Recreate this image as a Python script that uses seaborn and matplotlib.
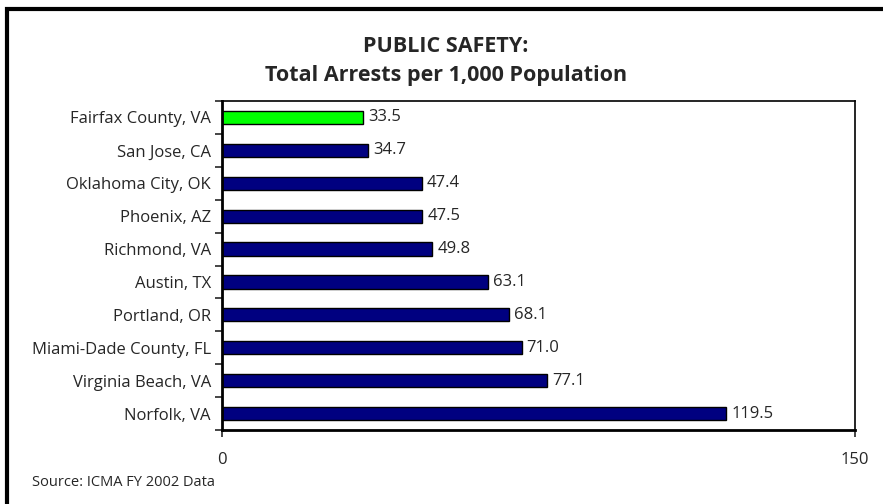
import matplotlib
matplotlib.use("Agg")
import matplotlib.pyplot as plt
import seaborn as sns
import pandas as pd
from matplotlib.patches import Rectangle

# Data
cities = ["Fairfax County, VA", "San Jose, CA", "Oklahoma City, OK", "Phoenix, AZ",
          "Richmond, VA", "Austin, TX", "Portland, OR", "Miami-Dade County, FL",
          "Virginia Beach, VA", "Norfolk, VA"]
arrests = [33.5, 34.7, 47.4, 47.5, 49.8, 63.1, 68.1, 71.0, 77.1, 119.5]
bar_colors = ["#00FF00"] + ["#000080"] * 9

df = pd.DataFrame({"City": cities, "Arrests": arrests})

sns.set_style("white")
plt.rcParams["font.family"] = ["Open Sans", "DejaVu Sans"]

fig = plt.figure(figsize=(8.83, 5.04), dpi=100)
W, H = 883, 504
ax = fig.add_axes([222 / W, 1 - 430 / H, (855 - 222) / W, (430 - 101) / H])

sns.barplot(data=df, y="City", x="Arrests", hue="City", palette=bar_colors,
            saturation=1, legend=False, width=0.4, edgecolor="black",
            linewidth=1, ax=ax)

ax.set_xlim(0, 150)
ax.set_ylim(len(cities) - 0.5, -0.5)
ax.set_xticks([0, 150])
ax.set_xticklabels(["0", "150"], fontsize=12)
ax.set_yticks(range(len(cities)))
ax.set_yticklabels(cities, fontsize=12)
ax.tick_params(axis="y", length=0, pad=8)
ax.tick_params(axis="x", length=5, width=1.2, direction="out", pad=11, bottom=True)
# tick marks between categories
ax.set_yticks([i - 0.5 for i in range(len(cities) + 1)], minor=True)
ax.tick_params(axis="y", which="minor", length=5, width=1.2, direction="out", left=True)
ax.set_xlabel("")
ax.set_ylabel("")

for s in ax.spines.values():
    s.set_visible(True)
    s.set_color("black")
    s.set_linewidth(1.2)
ax.spines["left"].set_linewidth(2)
ax.spines["bottom"].set_linewidth(2)

for i, v in enumerate(arrests):
    ax.text(v + 1.2, i, f"{v:.1f}", va="center", ha="left", fontsize=12)

# title is centred on the whole chart area, as in the original
fig.text(446 / W, 1 - 47 / H, "PUBLIC SAFETY:", ha="center", va="center",
         fontsize=15.5, fontweight="bold")
fig.text(446 / W, 1 - 76 / H, "Total Arrests per 1,000 Population", ha="center",
         va="center", fontsize=15.5, fontweight="bold")

fig.text(32 / W, 1 - 483 / H, "Source: ICMA FY 2002 Data", fontsize=10.5, va="center")

# outer frame
fig.patches.append(Rectangle((7 / W, -0.1), 1.1, 1 - 9 / H + 0.1,
                             transform=fig.transFigure, fill=False,
                             edgecolor="black", linewidth=3))

fig.savefig("out.png", dpi=100)
